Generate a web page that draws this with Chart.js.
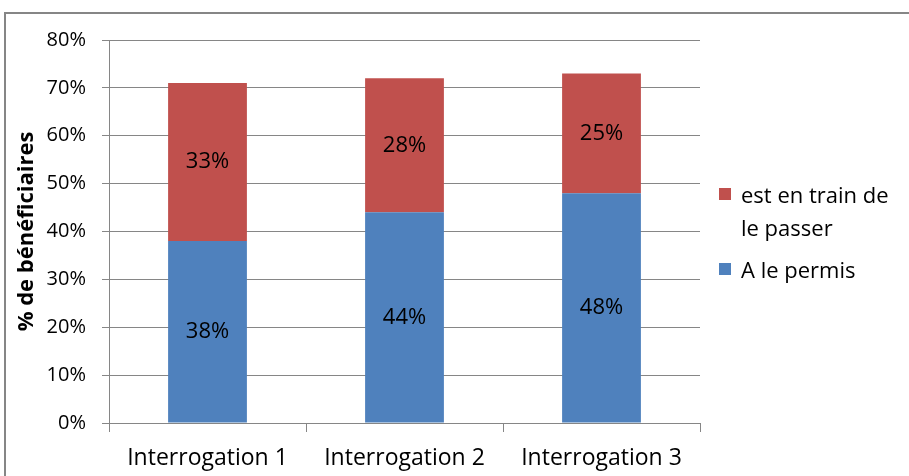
<!DOCTYPE html>
<html>
<head>
<meta charset="utf-8">
<script src="https://cdn.jsdelivr.net/npm/chart.js@4/dist/chart.umd.min.js"></script>
<style>
  body { margin: 0; background: #fff; }
  #wrap { position: relative; width: 909px; height: 476px; overflow: hidden; }
  #frame { position: absolute; left: 4px; top: 12px; width: 920px; height: 480px; border: 2px solid #868686; box-sizing: border-box; }
  #chart { position: absolute; left: 0; top: 0; }
  #legend { position: absolute; left: 719px; top: 178px; font-family: "Open Sans", sans-serif; font-size: 22px; color: #000; }
  .item { position: relative; padding-left: 22px; line-height: 33px; width: 160px; margin-bottom: 9px; }
  .swatch { position: absolute; left: 0; top: 10px; width: 12px; height: 12px; }
</style>
</head>
<body>
<div id="wrap">
  <div id="frame"></div>
  <canvas id="chart" width="909" height="476"></canvas>
  <div id="legend"></div>
</div>
<script>
// Data
const categories = ['Interrogation 1', 'Interrogation 2', 'Interrogation 3'];
const permis = [38, 44, 48];
const enTrain = [33, 28, 25];
const yTicks = [0, 10, 20, 30, 40, 50, 60, 70, 80];

const blue = '#4F81BD';
const red = '#C0504D';
const fontFamily = '"Open Sans", sans-serif';

// Value labels in the middle of each bar segment
const valueLabels = {
    id: 'valueLabels',
    afterDatasetsDraw(chart) {
        const ctx = chart.ctx;
        ctx.save();
        ctx.font = '22px ' + fontFamily;
        ctx.fillStyle = '#000';
        ctx.textAlign = 'center';
        ctx.textBaseline = 'middle';
        chart.data.datasets.forEach((ds, i) => {
            chart.getDatasetMeta(i).data.forEach((bar, j) => {
                const mid = (bar.y + bar.base) / 2;
                ctx.fillText(ds.data[j] + '%', bar.x, mid);
            });
        });
        ctx.restore();
    }
};

const chart = new Chart(document.getElementById('chart'), {
    type: 'bar',
    data: {
        labels: categories,
        datasets: [
            { label: 'A le permis', data: permis, backgroundColor: blue, categoryPercentage: 1, barPercentage: 0.4 },
            { label: 'est en train de le passer', data: enTrain, backgroundColor: red, categoryPercentage: 1, barPercentage: 0.4 }
        ]
    },
    options: {
        responsive: false,
        animation: false,
        layout: { padding: { left: 0, top: 40, right: 209, bottom: 0 } },
        plugins: { legend: { display: false }, tooltip: { enabled: false } },
        scales: {
            x: {
                stacked: true,
                grid: { offset: true, drawOnChartArea: false, color: '#868686', tickLength: 9, lineWidth: 1 },
                border: { color: '#868686' },
                ticks: { color: '#000', font: { size: 23, family: fontFamily }, padding: 13 },
                afterFit(s) { s.height = 53; }
            },
            y: {
                stacked: true,
                min: 0,
                max: 80,
                afterBuildTicks(s) { s.ticks = yTicks.map(v => ({ value: v })); },
                grid: { color: '#868686', tickLength: 7 },
                border: { color: '#868686' },
                ticks: { color: '#000', font: { size: 20, family: fontFamily }, padding: 16, callback: v => v + '%' },
                title: { display: true, text: '% de bénéficiaires', color: '#000', font: { size: 22, weight: 'bold', family: fontFamily }, padding: { top: 14, bottom: 0 } },
                afterFit(s) { s.width = 109; }
            }
        }
    },
    plugins: [valueLabels]
});

// Legend (reversed order, wrapped text like the original)
const legend = document.getElementById('legend');
chart.data.datasets.slice().reverse().forEach(ds => {
    const item = document.createElement('div');
    item.className = 'item';
    item.innerHTML = '<span class="swatch" style="background:' + ds.backgroundColor + '"></span>' + ds.label;
    legend.appendChild(item);
});
</script>
</body>
</html>
